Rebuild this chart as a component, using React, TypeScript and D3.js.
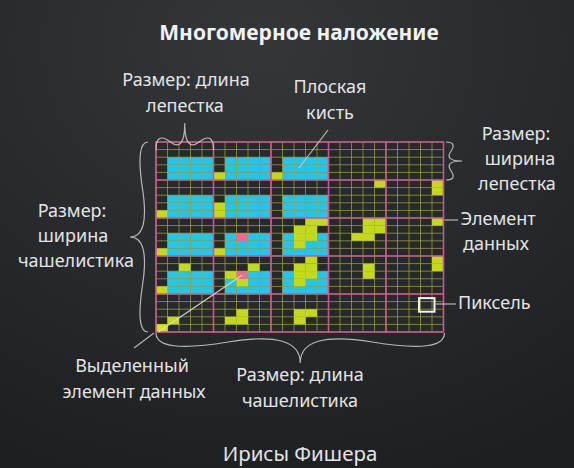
import * as d3 from 'd3'

// outer bins: sepal length (columns) x sepal width (rows); inner: petal length x petal width
const outerCount = 5
const innerCount = 5

// yellow data cells: [outerCol, outerRow, innerCol, innerRow]
const dataCells: [number, number, number, number][] = [
    [1, 0, 0, 4], [2, 0, 0, 4],
    [0, 1, 0, 4], [1, 1, 0, 3], [1, 1, 0, 4], [3, 1, 4, 0], [4, 1, 4, 0], [4, 1, 4, 1],
    [0, 2, 0, 4], [1, 2, 0, 4],
    [2, 2, 3, 0], [2, 2, 4, 0], [2, 2, 2, 1], [2, 2, 3, 1], [2, 2, 2, 2], [2, 2, 3, 2], [2, 2, 2, 3],
    [3, 2, 3, 0], [3, 2, 4, 0], [3, 2, 3, 1], [3, 2, 4, 1], [3, 2, 2, 2], [3, 2, 3, 2],
    [4, 2, 4, 0],
    [0, 3, 2, 1], [0, 3, 0, 4],
    [1, 3, 3, 1], [1, 3, 1, 2], [1, 3, 2, 3],
    [2, 3, 3, 0], [2, 3, 2, 1], [2, 3, 3, 1], [2, 3, 2, 2], [2, 3, 3, 2], [2, 3, 2, 3],
    [3, 3, 3, 1], [3, 3, 3, 2],
    [4, 3, 4, 0], [4, 3, 4, 1],
    [0, 4, 1, 3], [0, 4, 0, 4],
    [1, 4, 2, 2], [1, 4, 1, 3], [1, 4, 2, 3],
    [2, 4, 2, 2], [2, 4, 3, 2], [2, 4, 2, 3],
]

// highlighted (linked) element
const highlightedCells: [number, number, number, number][] = [
    [1, 2, 2, 2],
    [1, 3, 2, 2],
]
const selectedCell: [number, number, number, number] = [0, 4, 0, 4]
const pixelCell: [number, number, number, number] = [4, 4, 3, 1]

// flat brush
const brushOuterCols = [0, 1, 2]
const brushOuterRows = [0, 1, 2, 3]
const brushInnerCols = [1, 2, 3, 4]
const brushInnerRows = [2, 3, 4]

const width = 574
const height = 468
const textColor = '#e4e4e4'
const font = "'Noto Sans', sans-serif"

function bracePath(x1: number, y1: number, x2: number, y2: number, w: number, q = 0.7) {
    let dx = x1 - x2
    let dy = y1 - y2
    const len = Math.hypot(dx, dy)
    dx /= len
    dy /= len
    const qx1 = x1 + q * w * dy
    const qy1 = y1 - q * w * dx
    const qx2 = x1 - 0.25 * len * dx + (1 - q) * w * dy
    const qy2 = y1 - 0.25 * len * dy - (1 - q) * w * dx
    const tx = x1 - 0.5 * len * dx + w * dy
    const ty = y1 - 0.5 * len * dy - w * dx
    const qx3 = x2 + q * w * dy
    const qy3 = y2 - q * w * dx
    const qx4 = x1 - 0.75 * len * dx + (1 - q) * w * dy
    const qy4 = y1 - 0.75 * len * dy - (1 - q) * w * dx
    return `M${x1},${y1}Q${qx1},${qy1} ${qx2},${qy2}T${tx},${ty}M${x2},${y2}Q${qx3},${qy3} ${qx4},${qy4}T${tx},${ty}`
}

export default function App() {
    const n = outerCount * innerCount
    const x = d3.scaleLinear().domain([0, n]).range([156, 443.5])
    const y = d3.scaleLinear().domain([0, n]).range([142, 332])
    const gx = (d: number[]) => d[0] * innerCount + d[2]
    const gy = (d: number[]) => d[1] * innerCount + d[3]

    const brushCells: number[][] = []
    brushOuterCols.forEach((C) =>
        brushOuterRows.forEach((R) =>
            brushInnerCols.forEach((c) =>
                brushInnerRows.forEach((r) => brushCells.push([C, R, c, r]))
            )
        )
    )

    const cell = (d: number[], fill: string, key: string) => (
        <rect
            key={key}
            x={x(gx(d))}
            y={y(gy(d))}
            width={x(gx(d) + 1) - x(gx(d))}
            height={y(gy(d) + 1) - y(gy(d))}
            fill={fill}
        />
    )

    const lines = d3.range(n + 1)
    const stroke = { stroke: '#cfcfcf', strokeWidth: 1.2, fill: 'none', opacity: 0.85 }
    const label = { fill: textColor, fontFamily: font, fontSize: 18, textAnchor: 'middle' as const }

    const px = x(gx(pixelCell))
    const py = y(gy(pixelCell))

    return (
        <div style={{ position: 'absolute', left: 0, top: 0 }}>
            <svg width={width} height={height} style={{ display: 'block' }}>
                <defs>
                    <radialGradient id="bg" cx="0.45" cy="0.1" r="1">
                        <stop offset="0" stopColor="#34373a" />
                        <stop offset="1" stopColor="#1c1e20" />
                    </radialGradient>
                </defs>
                <rect width={width} height={height} fill="url(#bg)" />

                {/* grid background */}
                <rect x={x(0)} y={y(0)} width={x(n) - x(0)} height={y(n) - y(0)} fill="#27292b" />
                {brushCells.map((d, i) => cell(d, '#1ec6f0', `b${i}`))}

                {/* inner grid lines */}
                {lines.map((i) => (
                    <line key={`vx${i}`} x1={x(i)} x2={x(i)} y1={y(0)} y2={y(n)} stroke="#a6a83e" strokeWidth={1} opacity={0.7} />
                ))}
                {lines.map((i) => (
                    <line key={`hy${i}`} x1={x(0)} x2={x(n)} y1={y(i)} y2={y(i)} stroke="#a6a83e" strokeWidth={1} opacity={0.7} />
                ))}

                {dataCells.map((d, i) => cell(d, '#c4d81c', `d${i}`))}
                {highlightedCells.map((d, i) => cell(d, '#f0698e', `h${i}`))}
                {cell(selectedCell, '#d6e21e', 'sel')}

                {/* outer grid lines */}
                {d3.range(0, n + 1, innerCount).map((i) => (
                    <line key={`ox${i}`} x1={x(i)} x2={x(i)} y1={y(0) - 0.5} y2={y(n) + 0.5} stroke="#c9588f" strokeWidth={1.6} />
                ))}
                {d3.range(0, n + 1, innerCount).map((i) => (
                    <line key={`oy${i}`} x1={x(0) - 0.5} x2={x(n) + 0.5} y1={y(i)} y2={y(i)} stroke="#c9588f" strokeWidth={1.6} />
                ))}

                {/* link line from selected element to its highlight */}
                <line
                    x1={x(gx(selectedCell) + 0.2)}
                    y1={y(gy(selectedCell) + 1)}
                    x2={x(gx(highlightedCells[1]) + 0.5)}
                    y2={y(gy(highlightedCells[1]) + 0.5)}
                    stroke="#dcdcdc"
                    strokeWidth={1.3}
                    opacity={0.9}
                />

                {/* pixel box */}
                <rect x={px - 1.5} y={py - 3.5} width={x(1) - x(0) + 4} height={y(1) - y(0) + 6} fill="none" stroke="#f2f2f2" strokeWidth={2} />

                {/* braces */}
                <path d={bracePath(x(5), 150, x(0), 150, 27)} {...stroke} />
                <path d={bracePath(x(0), 333, x(n) + 1, 333, 30)} {...stroke} />
                <path d={bracePath(148, y(0), 148, y(n), 18)} {...stroke} />
                <path d={bracePath(446, y(5), 446, y(0), 16)} {...stroke} />

                {/* pointer lines */}
                <line x1={328} y1={130} x2={299} y2={168} {...stroke} />
                <line x1={x(n) + 1} y1={220} x2={458} y2={220} {...stroke} />
                <line x1={px + 15} y1={304} x2={456} y2={304} {...stroke} />
                <line x1={154} y1={333} x2={134} y2={348} {...stroke} />

                {/* texts */}
                <text x={299} y={40} fill="#f2f2f2" fontFamily={font} fontSize={21} fontWeight="bold" textAnchor="middle">
                    Многомерное наложение
                </text>
                <text {...label} x={186} y={86}>Размер: длина</text>
                <text {...label} x={185} y={112}>лепестка</text>
                <text {...label} x={330} y={93}>Плоская</text>
                <text {...label} x={330} y={119}>кисть</text>

                <text {...label} x={516} y={140}>Размер:</text>
                <text {...label} x={520} y={165}>ширина</text>
                <text {...label} x={517} y={190}>лепестка</text>

                <text {...label} x={498} y={225}>Элемент</text>
                <text {...label} x={496} y={250}>данных</text>

                <text {...label} x={458} y={309} textAnchor="start">Пиксель</text>

                <text {...label} x={72} y={217}>Размер:</text>
                <text {...label} x={73} y={242}>ширина</text>
                <text {...label} x={76} y={267}>чашелистика</text>

                <text {...label} x={132} y={372}>Выделенный</text>
                <text {...label} x={134} y={398}>элемент данных</text>

                <text {...label} x={300} y={381}>Размер: длина</text>
                <text {...label} x={300} y={407}>чашелистика</text>

                <text {...label} x={300} y={461} fontSize={20.5}>Ирисы Фишера</text>
            </svg>
        </div>
    )
}
